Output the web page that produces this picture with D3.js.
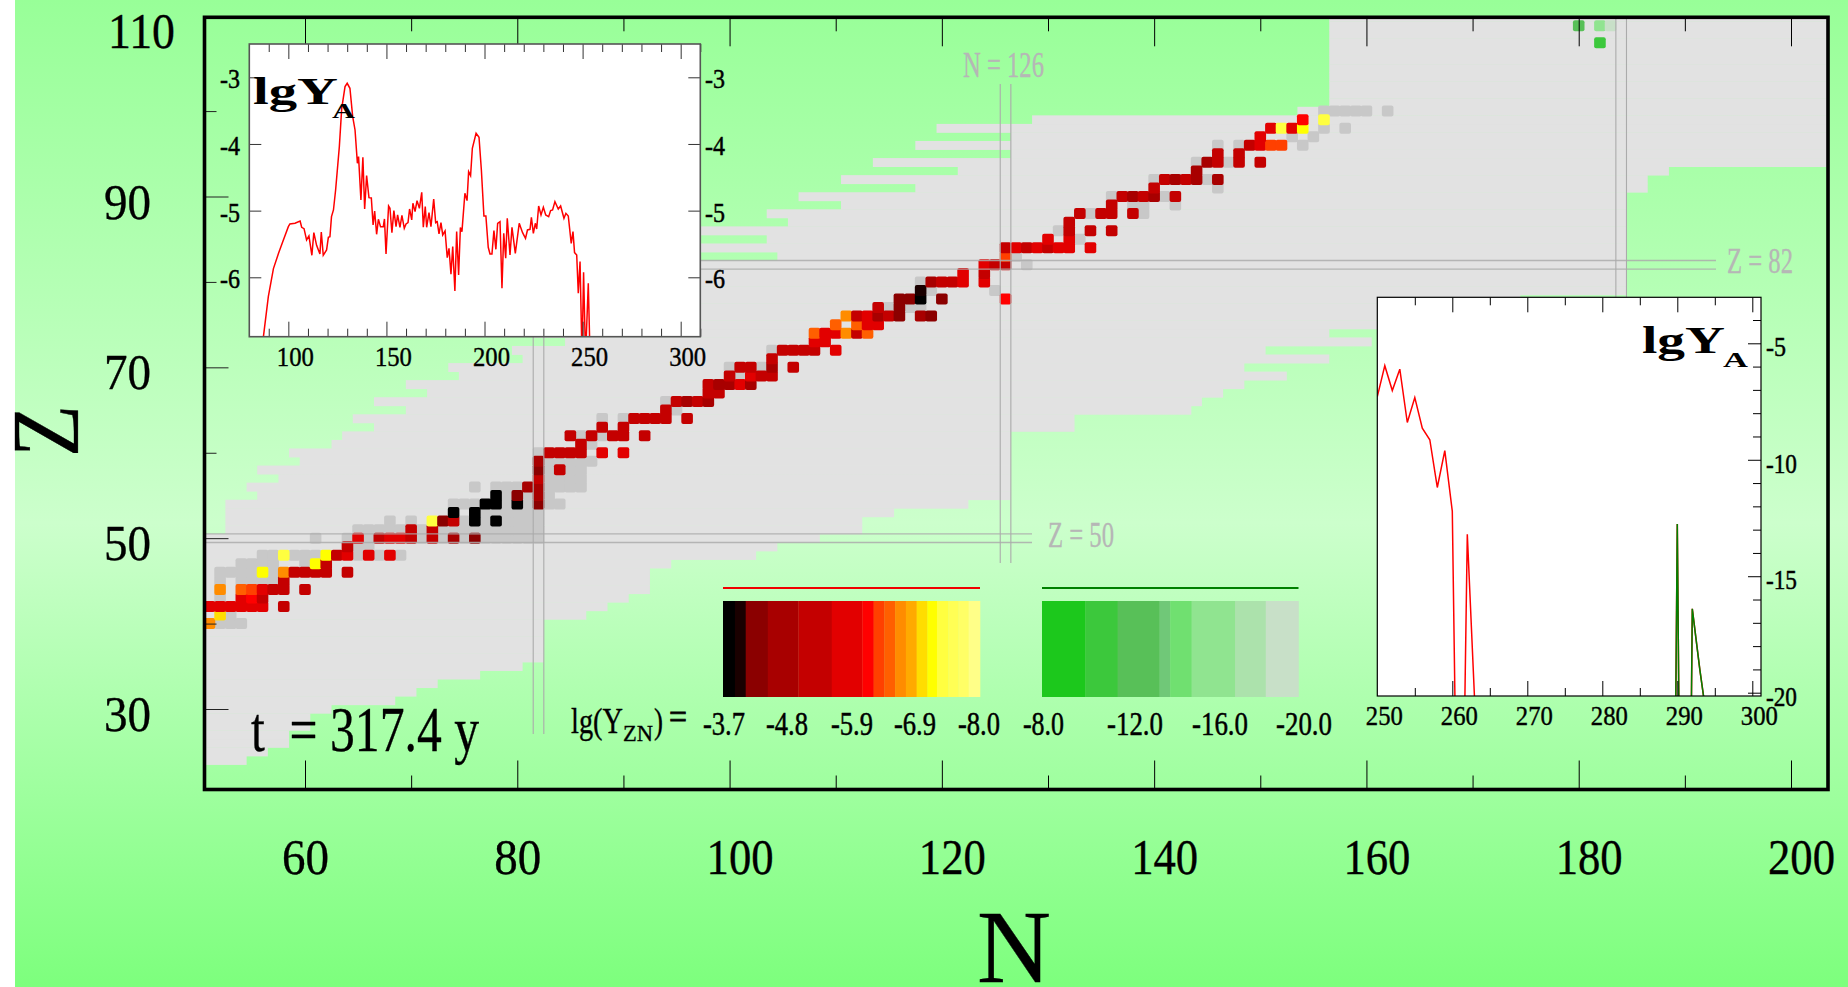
<!DOCTYPE html>
<html><head><meta charset="utf-8">
<script src="https://cdn.jsdelivr.net/npm/d3@7"></script>
<style>html,body{margin:0;padding:0;background:#fff;overflow:hidden}svg{display:block}text{font-family:"Liberation Serif",serif;white-space:pre}</style>
</head><body>
<script>
// ---------- Data ----------
const nMajorTicks = [60,80,100,120,140,160,180,200];
const nMinorTicks = [70,90,110,130,150,170,190];
const zMajorTicks = [30,50,70,90];
const zMinorTicks = [40,60,80,100];
const zTickLabels = [30,50,70,90,110];

// Known-nuclide region, row by row: Z, lowest N, highest N
const regionZ = [24,25,26,27,28,29,30,31,32,33,34,35,36,37,38,39,40,41,42,43,44,45,46,47,48,49,50,51,52,53,54,55,56,57,58,59,60,61,62,63,64,65,66,67,68,69,70,71,72,73,74,75,76,77,78,79,80,81,82,83,84,85,86,87,88,89,90,91,92,93,94,95,96,97,98,99,100,101,102,103,104,105,106,107,108,109,110,111,112];
const regionLow = [50,50,50,50,50,50,50,50,50,50,50,50,50,50,50,50,50,50,50,50,50,50,50,50,50,50,50,53,53,53,53,56,55,58,56,60,59,63,64,67,65,70,67,72,70,75,74,81,80,85,82,88,84,92,88,95,92,96,94,105,97,104,97,106,104,111,107,118,111,122,114,127,118,127,120,129,154,157,157,157,157,157,157,157,157,157,157,157,157];
const regionHigh = [54,56,58,58,60,60,62,68,70,72,76,80,82,82,82,82,82,86,88,90,92,92,92,94,102,104,108,112,112,115,122,126,126,126,126,126,126,126,126,132,132,143,144,146,148,152,148,156,150,160,156,174,174,174,174,184,184,184,184,184,184,184,184,184,184,184,184,186,186,188,203,203,203,203,203,203,203,203,203,203,203,203,203,203,203,203,203,203,203];

// Cells at the lowest abundance: [Z, [N...]]
const faintCells = [
 [40,[52,53,54]],[41,[53]],[43,[52]],[45,[52,54,55,56,57]],[46,[52,53,54,55,57]],[47,[54,55,56,57,60]],
 [48,[56,57,59,60,61,65,67,69]],[49,[65,66]],[50,[61,64,66,71,73,75,77,78,79,80,81,82]],
 [51,[65,66,67,68,69,71,73,74,75,76,77,78,79,80,81,82]],[52,[68,70,75,77,79,80,81,82]],[53,[77,78,79,80,81,82]],
 [54,[74,75,76,79,81,83,84]],[55,[79,81,83]],[56,[76,78,79,80,83,84,85,86]],[57,[83,84,85,86]],[58,[83,85,86]],
 [59,[83,84,85,86,87]],[60,[82]],[61,[87]],[62,[86,88]],[64,[88,90]],[65,[95]],[66,[94]],[69,[101]],[70,[100,103]],
 [72,[104]],[77,[115,117,118]],[79,[119,125]],[80,[118]],[82,[128]],[83,[127]],[85,[133]],[86,[131]],[88,[134,139]],
 [89,[138,139,142]],[90,[136,141]],[91,[146]],[92,[140,145]],[94,[144,147]],[96,[146,148,154]],[97,[153,155]],
 [98,[156,158]],[100,[156,157,158,159,160,162]]
];

// Abundant cells: [Z, [N, lgY], ...]
const abundantCells = [
 [40,[51,-6.7]],[41,[52,-7.0]],
 [42,[51,-5.8],[52,-5.8],[53,-5.8],[54,-5.8],[55,-5.8],[56,-5.8],[58,-5.2]],
 [43,[54,-5.8],[55,-6.1],[56,-5.2]],
 [44,[52,-6.7],[54,-6.5],[55,-6.3],[56,-5.8],[57,-5.2],[58,-5.2],[60,-5.2]],
 [45,[58,-5.2]],
 [46,[56,-7.2],[58,-6.7],[59,-5.2],[60,-5.2],[61,-5.2],[62,-5.2],[64,-5.2]],
 [47,[61,-7.2],[62,-5.2]],
 [48,[58,-7.4],[62,-7.2],[63,-5.2],[64,-5.8],[66,-5.8],[68,-5.8]],
 [49,[64,-5.2]],
 [50,[65,-5.8],[67,-5.2],[68,-5.8],[69,-5.8],[70,-5.2],[72,-5.2],[74,-4.7],[76,-4.3]],
 [51,[70,-5.2],[72,-5.2]],
 [52,[72,-7.4],[73,-4.3],[74,-5.2],[76,-3.8],[78,-3.8]],
 [53,[74,-3.8],[76,-3.8]],
 [54,[77,-3.8],[78,-3.8],[80,-3.8],[82,-4.3]],
 [55,[78,-3.8],[80,-4.3],[82,-4.7]],
 [56,[81,-4.7],[82,-4.7]],[57,[82,-5.2]],[58,[82,-4.3],[84,-5.2]],[59,[82,-4.7]],
 [60,[83,-5.2],[84,-5.2],[85,-5.2],[86,-5.2],[88,-5.8],[90,-5.8]],
 [61,[86,-5.2]],
 [62,[85,-5.2],[87,-5.2],[89,-5.2],[90,-5.2],[92,-5.2]],
 [63,[88,-5.2],[90,-5.2]],
 [64,[91,-5.2],[92,-5.2],[93,-5.2],[94,-5.2],[96,-5.2]],
 [65,[94,-5.2]],
 [66,[95,-5.2],[96,-4.7],[97,-5.2],[98,-4.7]],
 [67,[98,-5.2],[99,-5.2]],
 [68,[98,-5.2],[99,-4.7],[100,-4.7],[101,-5.8],[102,-4.7]],
 [69,[100,-5.2],[102,-5.8],[103,-5.2],[104,-5.2]],
 [70,[101,-5.2],[102,-5.2],[104,-4.7],[106,-5.2]],
 [71,[104,-5.2]],
 [72,[105,-5.2],[106,-5.2],[107,-5.2],[108,-5.2],[110,-5.8]],
 [73,[108,-5.8],[109,-5.8]],
 [74,[108,-6.5],[109,-5.8],[110,-5.8],[111,-6.7],[112,-5.2],[113,-6.5]],
 [75,[110,-6.5],[112,-6.5],[113,-5.8],[114,-5.8]],
 [76,[111,-6.7],[112,-5.2],[113,-5.8],[114,-4.7],[115,-5.2],[116,-4.3],[118,-4.7],[119,-4.3]],
 [77,[114,-5.2],[116,-4.3]],
 [78,[116,-4.3],[117,-4.3],[118,-3.8],[120,-4.3],[126,-6.1]],
 [79,[118,-4.0]],
 [80,[119,-4.7],[120,-5.2],[121,-5.2],[122,-5.8],[124,-5.8]],
 [81,[122,-5.8],[124,-5.2]],
 [82,[124,-5.8],[125,-5.2],[126,-5.2]],
 [83,[126,-6.3]],
 [84,[126,-5.2],[127,-5.8],[128,-5.2],[129,-5.8],[130,-5.2],[131,-5.8],[132,-5.8],[134,-5.8]],
 [85,[130,-5.8],[132,-5.8]],
 [86,[132,-5.2],[134,-5.2],[136,-5.2]],
 [87,[132,-5.2]],
 [88,[133,-5.2],[135,-5.2],[136,-5.2],[138,-5.2]],
 [89,[136,-5.2]],
 [90,[137,-5.2],[138,-4.7],[139,-5.2],[140,-4.7],[142,-5.2]],
 [91,[140,-5.2]],
 [92,[141,-5.2],[142,-4.7],[143,-5.2],[144,-4.7],[146,-4.7]],
 [93,[144,-4.7]],
 [94,[145,-4.7],[146,-5.2],[148,-5.2],[150,-5.2]],
 [95,[146,-5.2],[148,-5.2]],
 [96,[149,-5.2],[150,-5.8],[151,-6.3],[152,-6.3]],
 [97,[150,-5.8]],
 [98,[151,-5.8],[152,-7.4],[153,-5.8],[154,-7.2]],
 [99,[154,-6.1],[156,-7.4]]
];
// Superheavy cells, green scale
const greenCells = [[108,[182,-11]],[110,[180,-12.5],[182,-16],[183,-19]]];

// Colour bar bands
const redEdges = [-3.7,-3.9,-4.08,-4.45,-4.96,-5.52,-6.03,-6.22,-6.4,-6.58,-6.76,-6.94,-7.12,-7.28,-7.47,-7.64,-7.81,-8.0];
const redColors = ["#000000","#1a0000","#8b0000","#a80000","#c40000","#e20000","#ff0000","#ff4000","#ff5f00","#ff8c00","#ffaa00","#ffdd00","#ffff00","#ffff40","#ffff55","#ffff66","#ffff88"];
const greenEdges = [-8,-10.03,-11.54,-13.5,-14,-15,-17.03,-18.47,-20];
const greenColors = ["#1cc81c","#3cc83c","#58c058","#70c878","#70e070","#90e490","#ace2ac","#c8e0c8"];
const redLabels = ["-3.7","-4.8","-5.9","-6.9","-8.0"];
const greenLabels = ["-8.0","-12.0","-16.0","-20.0"];

// Mass distribution, left inset
const massA = [87.3,89.8,92.4,95,97.1,100,100.8,103.4,106,106.8,108,109.3,110.5,112,113,114.4,116.1,116.8,117.8,119.5,120.4,121.2,122,123,124.1,126,127.2,128.9,130,131.4,132.8,134,135.2,135.8,137,138,138.9,139.9,141.1,142.3,143.2,144,145,145.9,147,148.4,149,149.8,151.1,151.8,152.8,153.8,154.9,155.7,156.9,157.9,159.1,160,161,161.8,162.9,163.5,164.6,165.6,166.8,168,168.8,169.8,170.5,171.7,172.7,174.1,175.1,175.9,176.8,177.8,178.7,179.9,181,181.9,182.9,183.8,184.9,185.8,186.8,187.7,188.5,190,191.1,191.9,192.9,193.8,195.7,197.2,198.4,199.7,200.7,201.9,202.8,203.8,204.8,205.8,206.7,207.9,208.9,209.8,210.8,211.6,213,214,215.7,217.7,219.4,220.9,221.9,223.2,223.9,224.9,225.9,226.6,227.6,228.8,230,231.2,232.7,233.7,234.7,235.9,237.6,238.8,240.5,241.5,242.7,244.2,245.1,245.9,247,247.8,248.7,249.7,250.5,251.5,252.9,253.8];
const lgYA = [-6.89,-6.29,-5.87,-5.64,-5.47,-5.24,-5.2,-5.19,-5.155,-5.25,-5.27,-5.44,-5.38,-5.67,-5.33,-5.52,-5.65,-5.32,-5.67,-5.59,-5.4,-5.39,-5.09,-4.99,-4.69,-4.04,-3.47,-3.14,-3.09,-3.165,-3.59,-3.79,-4.29,-4.19,-4.84,-4.2,-4.975,-4.475,-4.805,-4.81,-5.215,-5.005,-5.355,-5.13,-5.24,-5.24,-5.125,-5.65,-4.93,-4.965,-5.33,-5.0,-5.24,-5.065,-5.25,-5.07,-5.265,-5.2,-5.18,-4.975,-5.14,-4.89,-5.015,-4.85,-4.965,-4.725,-5.25,-4.94,-5.25,-5.03,-5.24,-4.825,-5.18,-5.165,-5.35,-5.18,-5.365,-5.305,-5.705,-5.565,-5.955,-5.54,-6.205,-5.315,-5.965,-5.255,-5.315,-4.74,-4.85,-4.415,-4.475,-4.065,-3.84,-3.9,-4.39,-5.08,-5.08,-5.55,-5.65,-5.65,-5.3,-5.58,-5.19,-5.165,-6.165,-5.34,-5.715,-5.115,-5.665,-5.25,-5.64,-5.19,-5.33,-5.415,-5.29,-5.28,-5.1,-5.34,-5.19,-5.275,-4.93,-5.065,-4.95,-5.065,-5.09,-5.0,-4.99,-4.865,-4.975,-4.93,-5.115,-5.04,-5.08,-5.49,-5.315,-5.63,-5.665,-6.24,-5.765,-7.2,-5.925,-7.2,-6.09,-7.2];

// Heavy tail, right inset
const tailA = [250,251,252,253,254,255,256,257,258,259,260,261,262,263,264,289,290,291,292,293,294];
const tailLgY = [-7.29,-5.96,-7.03,-6.11,-8.4,-7.33,-8.64,-9.14,-11.19,-9.61,-12.21,-35,-13.2,-20.5,-40,-50,-12.76,-50,-16.4,-19,-21.3];
const tailGreenA = [289,290,291,292,293,294];
const tailGreenLgY = [-50,-12.76,-50,-16.4,-19,-21.3];

const inset1XMajor = [100,150,200,250,300];
const inset1XMinor = [90,110,120,130,140,160,170,180,190,210,220,230,240,260,270,280,290,310];
const inset1YTicks = [-3,-4,-5,-6];
const inset2XMajor = [250,260,270,280,290,300];
const inset2XMinor = [255,265,275,285,295];
const inset2YMajor = [-5,-10,-15,-20];
const inset2YMinor = [-4,-6,-7,-8,-9,-11,-12,-13,-14,-16,-17,-18,-19];

const timeLabel = "t  = 317.4 y";

// ---------- Drawing ----------
const W = 1848, H = 987;
const svg = d3.select("body").append("svg").attr("width",W).attr("height",H);
const defs = svg.append("defs");
const bg = defs.append("linearGradient").attr("id","bg").attr("x1",0).attr("x2",0).attr("y1",0).attr("y2",1);
[[0,"#98ff98"],[0.53,"#ccffcc"],[1,"#7dff7d"]].forEach(s=>bg.append("stop").attr("offset",s[0]).attr("stop-color",s[1]));
svg.append("rect").attr("x",15).attr("y",0).attr("width",W-15).attr("height",H).attr("fill","url(#bg)");

const fx0=204.5, fy0=17.3, fx1=1828, fy1=789.5;
defs.append("clipPath").attr("id","frameClip").append("rect").attr("x",fx0).attr("y",fy0).attr("width",fx1-fx0).attr("height",fy1-fy0);

const xN = d3.scaleLinear().domain([60,200]).range([305,1791]);
const yZ = d3.scaleLinear().domain([30,90]).range([709,196.5]);
const ch = Math.abs(yZ(1)-yZ(0));
const cellW = 11.6, cellH = 11;

function label(g,t,x,y,size,width,anchor,fill,weight,bold){
  const el=g.append("text").text(t).attr("x",x).attr("y",y).attr("font-size",size)
    .attr("text-anchor",anchor||"start").attr("fill",fill||"#000");
  if(width) el.attr("textLength",width).attr("lengthAdjust","spacingAndGlyphs");
  if(weight) el.attr("font-weight",weight);
  const s = bold===undefined ? 0.35 : bold;
  if(s) el.attr("stroke",fill||"#000").attr("stroke-width",s);
  return el;
}

const plot = svg.append("g").attr("clip-path","url(#frameClip)");
plot.append("g").selectAll("rect").data(d3.zip(regionZ,regionLow,regionHigh)).join("rect")
  .attr("x",d=>xN(d[1]-0.5)).attr("width",d=>xN(d[2]+0.5)-xN(d[1]-0.5))
  .attr("y",d=>yZ(d[0]+0.5)).attr("height",ch+0.4).attr("fill","#e2e2e2");

const thrRed = d3.scaleThreshold().domain(redEdges.slice(1,-1).reverse()).range(redColors.slice().reverse());
const thrGreen = d3.scaleThreshold().domain(greenEdges.slice(1,-1).reverse()).range(greenColors.slice().reverse());

function cells(list,color){
  plot.append("g").selectAll("rect").data(list).join("rect")
    .attr("x",d=>xN(d.n)-cellW/2).attr("y",d=>yZ(d.z)-cellH/2)
    .attr("width",cellW).attr("height",cellH).attr("rx",2)
    .attr("fill",color);
}
cells(faintCells.flatMap(r=>r[1].map(n=>({z:r[0],n}))),"#c8c8c8");
cells(abundantCells.flatMap(r=>r.slice(1).map(c=>({z:r[0],n:c[0],v:c[1]}))),d=>thrRed(d.v));
cells(greenCells.flatMap(r=>r.slice(1).map(c=>({z:r[0],n:c[0],v:c[1]}))),d=>thrGreen(d.v));

// magic-number lines
const magicColor="#ababab";
function magicV(n,y0,y1){[-0.5,0.5].forEach(o=>svg.append("line").attr("x1",xN(n+o)).attr("x2",xN(n+o)).attr("y1",y0).attr("y2",y1).attr("stroke",magicColor).attr("stroke-width",1.1));}
function magicH(z,x0,x1){[-0.5,0.5].forEach(o=>svg.append("line").attr("x1",x0).attr("x2",x1).attr("y1",yZ(z+o)).attr("y2",yZ(z+o)).attr("stroke",magicColor).attr("stroke-opacity",.85).attr("stroke-width",1.4));}
magicH(50,fx0,1032); magicH(82,700,1716);
magicV(82,300,734); magicV(126,84,563); magicV(184,fy0,300);
label(svg,"N = 126",963,77,35,81,"start","#b6b6b6",null,0.3);
label(svg,"Z = 82",1727,273,35,66,"start","#b6b6b6",null,0.3);
label(svg,"Z = 50",1048,547,35,66,"start","#b6b6b6",null,0.3);

// main axes
function tickAxis(axis,tx,ty,col){
  const g=svg.append("g").attr("transform",`translate(${tx},${ty})`).call(axis.tickFormat(""));
  g.select(".domain").remove();
  g.selectAll("line").attr("stroke",col||"#000").attr("stroke-width",1);
  return g;
}
tickAxis(d3.axisBottom(xN).tickValues(nMajorTicks).tickSize(-29),0,fy1);
tickAxis(d3.axisBottom(xN).tickValues(nMinorTicks).tickSize(-14),0,fy1);
tickAxis(d3.axisTop(xN).tickValues(nMajorTicks).tickSize(-29),0,fy0);
tickAxis(d3.axisTop(xN).tickValues(nMinorTicks).tickSize(-14),0,fy0);
tickAxis(d3.axisLeft(yZ).tickValues(zMajorTicks).tickSize(-24),fx0,0,"#222");
tickAxis(d3.axisLeft(yZ).tickValues(zMinorTicks).tickSize(-12),fx0,0,"#222");

svg.append("rect").attr("x",fx0).attr("y",fy0).attr("width",fx1-fx0).attr("height",fy1-fy0)
  .attr("fill","none").attr("stroke","#000").attr("stroke-width",3.6);

nMajorTicks.forEach(t=>label(svg,String(t),xN(t)-23,874,50,t<100?47:67));
zTickLabels.forEach(t=>label(svg,String(t),t<100?104:108,yZ(t)+22,50,t<100?47:67));

label(svg,"N",1014,982,104,74,"middle");
svg.append("g").attr("transform","translate(78,431) rotate(-90)").call(g=>label(g,"Z",0,0,95,52,"middle"));
label(svg,timeLabel,251,751,64,228);

// colour bars
const barRed = d3.scaleLinear().domain([-3.7,-8]).range([723,980]);
const barGreen = d3.scaleLinear().domain([-8,-20]).range([1042,1298.5]);
function colourBar(scale,edges,colors){
  svg.append("g").selectAll("rect").data(colors).join("rect")
    .attr("x",(d,i)=>scale(edges[i])).attr("width",(d,i)=>scale(edges[i+1])-scale(edges[i])+0.3)
    .attr("y",601).attr("height",96).attr("fill",d=>d);
}
colourBar(barRed,redEdges,redColors);
colourBar(barGreen,greenEdges,greenColors);
svg.append("line").attr("x1",barRed.range()[0]).attr("x2",barRed.range()[1]).attr("y1",588).attr("y2",588).attr("stroke","#f00000").attr("stroke-width",2);
svg.append("line").attr("x1",barGreen.range()[0]).attr("x2",barGreen.range()[1]).attr("y1",588).attr("y2",588).attr("stroke","#008000").attr("stroke-width",2);
const redLabelX=[703,766,831,894,958], greenLabelX=[1023,1107,1192,1276];
redLabels.forEach((t,i)=>label(svg,t,redLabelX[i],735,33,42,"start","#000",null,0.5));
greenLabels.forEach((t,i)=>label(svg,t,greenLabelX[i],735,33,i?56:41,"start","#000",null,0.5));
label(svg,"lg(Y",571,733,36,52);
label(svg,"ZN",623,741,24,30);
label(svg,")",654,733,36,9);
label(svg,"=",669,729,36,18,"start","#000",null,0.8);

// left inset
const ax = d3.scaleLinear().domain([80.1,310]).range([249.3,700.3]);
const ay = d3.scaleLinear().domain([-3,-6]).range([77.3,277.3]);
const iL=249.3,iT=44,iR=700.3,iB=336.7;
svg.append("rect").attr("x",iL).attr("y",iT).attr("width",iR-iL).attr("height",iB-iT).attr("fill","#fff");
defs.append("clipPath").attr("id","i1").append("rect").attr("x",iL).attr("y",iT).attr("width",iR-iL).attr("height",iB-iT);
const line1=d3.line().x((d,i)=>ax(massA[i])).y(d=>ay(d));
svg.append("path").attr("d",line1(lgYA)).attr("clip-path","url(#i1)").attr("fill","none").attr("stroke","#ff0000").attr("stroke-width",1.5);
tickAxis(d3.axisBottom(ax).tickValues(inset1XMajor).tickSize(-15),0,iB,"#333");
tickAxis(d3.axisBottom(ax).tickValues(inset1XMinor).tickSize(-8),0,iB,"#333");
tickAxis(d3.axisTop(ax).tickValues(inset1XMajor).tickSize(-15),0,iT,"#333");
tickAxis(d3.axisTop(ax).tickValues(inset1XMinor).tickSize(-8),0,iT,"#333");
tickAxis(d3.axisLeft(ay).tickValues(inset1YTicks).tickSize(-12),iL,0,"#333");
tickAxis(d3.axisRight(ay).tickValues(inset1YTicks).tickSize(-12),iR,0,"#333");
svg.append("rect").attr("x",iL).attr("y",iT).attr("width",iR-iL).attr("height",iB-iT).attr("fill","none").attr("stroke","#555").attr("stroke-width",1.6);
inset1XMajor.forEach(t=>label(svg,String(t),ax(t)+7,366,27,37,"middle","#000",null,0.4));
inset1YTicks.forEach(t=>{
  label(svg,String(t),220,ay(t)+11,27,20,"start","#000",null,0.5);
  label(svg,String(t),705,ay(t)+11,27,20,"start","#000",null,0.5);
});
label(svg,"lgY",253,104,38,85,"start","#000","bold",0);
label(svg,"A",332,118,20,23,"start","#000","bold",0);

// right inset
const bx = d3.scaleLinear().domain([250,300]).range([1377.3,1752.3]);
const by = d3.scaleLinear().domain([-5,-20]).range([343.3,692.7]);
const jL=1377.3,jT=297.3,jR=1761,jB=696;
svg.append("rect").attr("x",jL).attr("y",jT).attr("width",jR-jL).attr("height",jB-jT).attr("fill","#fff");
defs.append("clipPath").attr("id","i2").append("rect").attr("x",jL).attr("y",jT).attr("width",jR-jL).attr("height",jB-jT);
const tailLine=d3.line().x(d=>bx(d[0])).y(d=>by(d[1]));
svg.append("path").attr("d",tailLine(d3.zip(tailA,tailLgY))).attr("clip-path","url(#i2)").attr("fill","none").attr("stroke","#ff0000").attr("stroke-width",1.5);
svg.append("path").attr("d",tailLine(d3.zip(tailGreenA,tailGreenLgY))).attr("clip-path","url(#i2)").attr("fill","none").attr("stroke","#008000").attr("stroke-width",1.5);
tickAxis(d3.axisBottom(bx).tickValues(inset2XMajor.slice(1)).tickSize(-15),0,jB);
tickAxis(d3.axisBottom(bx).tickValues(inset2XMinor).tickSize(-8),0,jB);
tickAxis(d3.axisTop(bx).tickValues(inset2XMajor.slice(1)).tickSize(-15),0,jT);
tickAxis(d3.axisTop(bx).tickValues(inset2XMinor).tickSize(-8),0,jT);
tickAxis(d3.axisRight(by).tickValues(inset2YMajor).tickSize(-13),jR,0);
tickAxis(d3.axisRight(by).tickValues(inset2YMinor).tickSize(-8),jR,0);
svg.append("rect").attr("x",jL).attr("y",jT).attr("width",jR-jL).attr("height",jB-jT).attr("fill","none").attr("stroke","#000").attr("stroke-width",1.2);
inset2XMajor.forEach(t=>label(svg,String(t),bx(t)+7,725,27,37,"middle","#000",null,0.4));
inset2YMajor.forEach(t=>label(svg,String(t),1766,by(t)+13,27,t===-5?20:31,"start","#000",null,0.5));
label(svg,"lgY",1642,353,38,83,"start","#000","bold",0);
label(svg,"A",1723,367,20,25,"start","#000","bold",0);
</script>
</body></html>
